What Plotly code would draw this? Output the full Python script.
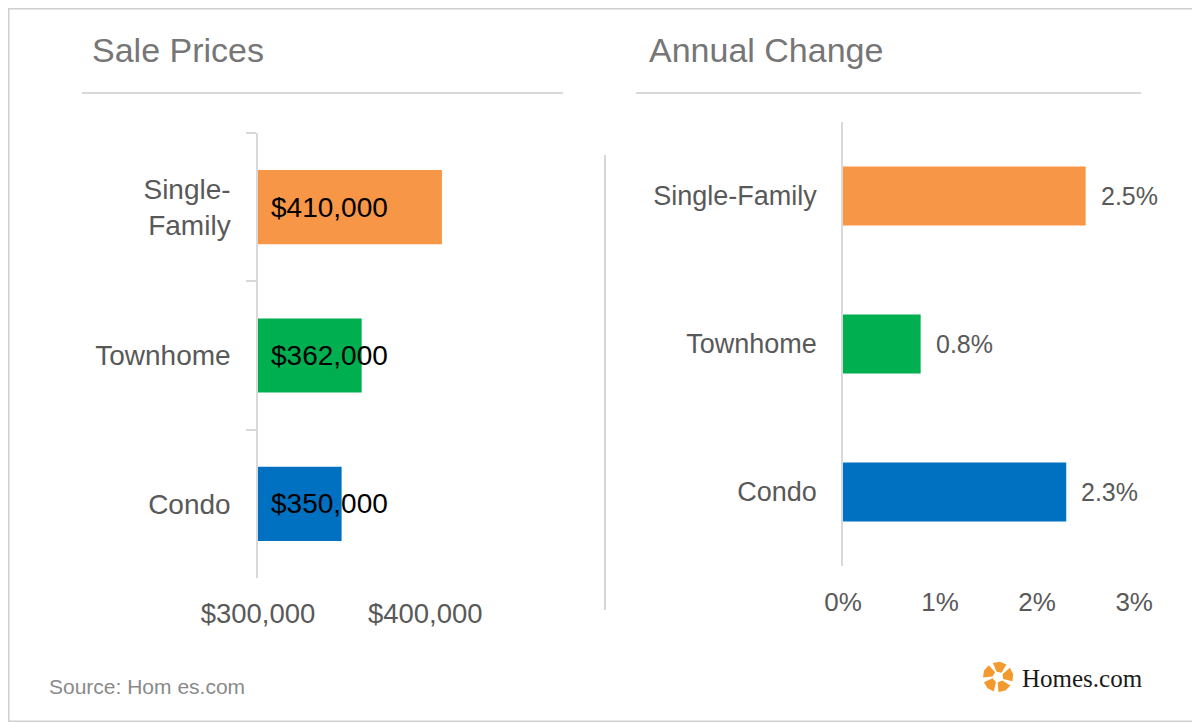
import math
import plotly.graph_objects as go

# ---------------- data ----------------
categories = ["Single-Family", "Townhome", "Condo"]
sale_prices = [410000, 362000, 350000]
annual_change = [2.5, 0.8, 2.3]
bar_colors = ["#F79646", "#00B050", "#0070C0"]
price_ticks = [300000, 400000]
change_ticks = [0, 1, 2, 3]

# page body has an 8px margin; canvas sized so nothing overflows the window
OFF = 8
W, H = 1200 - OFF, 722 - OFF
FONT = "Liberation Sans, Arial, sans-serif"
GREY = "#595959"
LINE = "#d9d9d9"


def px(x):
    return (x - OFF) / W


def py(y):
    return 1 - (y - OFF) / H


left_cats = [c.replace("-", "-<br>") for c in categories]

fig = go.Figure()

fig.add_trace(go.Bar(
    x=sale_prices, y=left_cats, orientation="h", width=0.5,
    marker=dict(color=bar_colors, line=dict(width=0)),
    xaxis="x", yaxis="y", showlegend=False, hoverinfo="skip",
))
fig.add_trace(go.Bar(
    x=annual_change, y=categories, orientation="h", width=0.4,
    marker=dict(color=bar_colors, line=dict(width=0)),
    xaxis="x2", yaxis="y2", showlegend=False, hoverinfo="skip",
))

annotations = []
for c, v in zip(left_cats, sale_prices):
    annotations.append(dict(
        x=price_ticks[0], y=c, xref="x", yref="y", text=f"${v:,.0f}",
        showarrow=False, xanchor="left", yanchor="middle", xshift=11,
        font=dict(family=FONT, size=28, color="#000000"),
    ))
for c, v in zip(categories, annual_change):
    annotations.append(dict(
        x=v, y=c, xref="x2", yref="y2", text=f"{v:.1f}%",
        showarrow=False, xanchor="left", yanchor="middle", xshift=13,
        font=dict(family=FONT, size=25, color=GREY),
    ))

annotations.append(dict(x=px(90), y=py(50), xref="paper", yref="paper",
                        text="Sale Prices", showarrow=False, xanchor="left", yanchor="middle",
                        font=dict(family=FONT, size=34, color="#767676")))
annotations.append(dict(x=px(647), y=py(50), xref="paper", yref="paper",
                        text="Annual Change", showarrow=False, xanchor="left", yanchor="middle",
                        font=dict(family=FONT, size=34, color="#767676")))
annotations.append(dict(x=px(47), y=py(686), xref="paper", yref="paper",
                        text="Source: Hom es.com", showarrow=False, xanchor="left", yanchor="middle",
                        font=dict(family=FONT, size=21, color="#8a8a8a")))
annotations.append(dict(x=px(1020), y=py(678), xref="paper", yref="paper",
                        text="Homes.com", showarrow=False, xanchor="left", yanchor="middle",
                        font=dict(family="Liberation Serif, Times New Roman, serif", size=25,
                                  color="#1a1a1a")))

shapes = []
shapes.append(dict(type="rect", xref="paper", yref="paper",
                   x0=0.5 / W, y0=0.5 / H, x1=1 - 0.5 / W, y1=1 - 0.5 / H,
                   line=dict(color="#cfcfcf", width=2)))
shapes.append(dict(type="line", xref="paper", yref="paper",
                   x0=px(82), x1=px(563), y0=py(93), y1=py(93),
                   line=dict(color="#cccccc", width=1.5)))
shapes.append(dict(type="line", xref="paper", yref="paper",
                   x0=px(636), x1=px(1141), y0=py(93), y1=py(93),
                   line=dict(color="#cccccc", width=1.5)))
shapes.append(dict(type="line", xref="paper", yref="paper",
                   x0=px(605), x1=px(605), y0=py(155), y1=py(610),
                   line=dict(color="#c8c8c8", width=1.5)))

# logo icon: ring of five orange petals around a white centre
cx, cy = 998, 677
r1, r2 = 5.5, 15.0
for k in range(5):
    a0 = math.radians(-110 + k * 72)
    a1 = a0 + math.radians(54)
    tw = math.radians(6)
    pts = [
        (cx + r1 * math.cos(a0 + tw), cy + r1 * math.sin(a0 + tw)),
        (cx + r2 * math.cos(a0), cy + r2 * math.sin(a0)),
        (cx + r2 * math.cos((a0 + a1) / 2) * 1.03, cy + r2 * math.sin((a0 + a1) / 2) * 1.03),
        (cx + r2 * math.cos(a1), cy + r2 * math.sin(a1)),
        (cx + r1 * math.cos(a1 + tw), cy + r1 * math.sin(a1 + tw)),
    ]
    path = "M " + " L ".join(f"{px(x):.5f},{py(y):.5f}" for x, y in pts) + " Z"
    shapes.append(dict(type="path", xref="paper", yref="paper", path=path,
                       fillcolor="#F39A2E", line=dict(width=0)))

fig.update_layout(
    width=W, height=H,
    margin=dict(l=0, r=0, t=0, b=0, pad=0),
    paper_bgcolor="white", plot_bgcolor="white",
    font=dict(family=FONT, color=GREY),
    xaxis=dict(
        domain=[px(258), px(559)], range=[300000, 480000],
        tickvals=price_ticks, ticktext=[f"${v:,.0f}" for v in price_ticks],
        showgrid=False, zeroline=False, showline=False, ticks="",
        tickfont=dict(family=FONT, size=27.5, color=GREY),
        ticklabelstandoff=16, anchor="y", fixedrange=True, automargin=False,
    ),
    yaxis=dict(
        domain=[py(578), py(133)], type="category", autorange="reversed",
        showgrid=False, zeroline=False, showline=True, linecolor=LINE, linewidth=1.5,
        ticks="outside", tickson="boundaries", ticklen=10, tickcolor=LINE, tickwidth=1.5,
        tickfont=dict(family=FONT, size=28, color=GREY),
        ticklabelstandoff=20, anchor="x", fixedrange=True, automargin=False,
    ),
    xaxis2=dict(
        domain=[px(843), px(1173)], range=[0, 3.4],
        tickvals=change_ticks, ticktext=[f"{v}%" for v in change_ticks],
        showgrid=False, zeroline=False, showline=False, ticks="",
        tickfont=dict(family=FONT, size=26, color=GREY),
        ticklabelstandoff=18, anchor="y2", fixedrange=True, automargin=False,
    ),
    yaxis2=dict(
        domain=[py(566), py(122)], type="category", autorange="reversed",
        showgrid=False, zeroline=False, showline=True, linecolor=LINE, linewidth=1.5,
        ticks="", tickfont=dict(family=FONT, size=27, color=GREY),
        ticklabelstandoff=19, anchor="x2", fixedrange=True, automargin=False,
    ),
    annotations=annotations,
    shapes=shapes,
)

fig.write_html("out.html")
